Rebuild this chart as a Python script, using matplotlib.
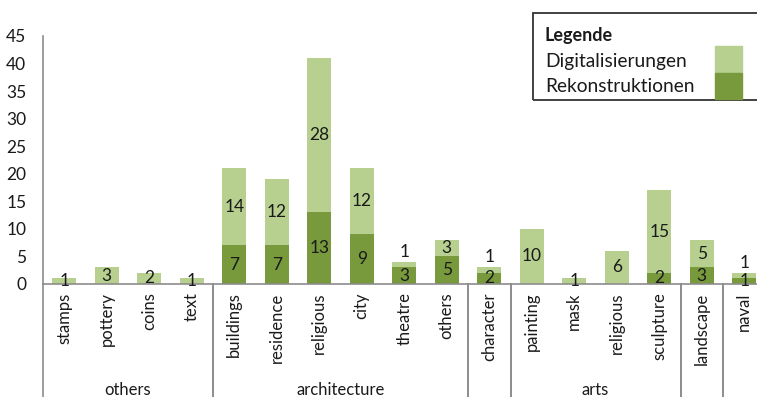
import matplotlib.pyplot as plt
from matplotlib.patches import Rectangle
import matplotlib.transforms as mtransforms
import numpy as np

plt.rcParams['font.family'] = ['Lato', 'DejaVu Sans']

categories = ['stamps', 'pottery', 'coins', 'text',
              'buildings', 'residence', 'religious', 'city', 'theatre', 'others',
              'character', 'painting', 'mask', 'religious', 'sculpture',
              'landscape', 'naval']
rekonstruktionen = [0, 0, 0, 0, 7, 7, 13, 9, 3, 5, 2, 0, 0, 0, 2, 3, 1]
digitalisierungen = [1, 3, 2, 1, 14, 12, 28, 12, 1, 3, 1, 10, 1, 6, 15, 5, 1]
# groups: (label, first index, last index)
groups = [('others', 0, 3), ('architecture', 4, 9), ('', 10, 10),
          ('arts', 11, 14), ('', 15, 15), ('', 16, 16)]
yticks = [0, 5, 10, 15, 20, 25, 30, 35, 40, 45]

light = '#b7d08f'
dark = '#789a3c'
axcol = '#8c8c8c'
txt = '#1a1a1a'

W, H = 757, 397
fig = plt.figure(figsize=(W / 100, H / 100), dpi=100)
x0, x1 = 43, 43 + 17 * 42.5
yb, yt = 284, 36
ax = fig.add_axes([x0 / W, (H - yb) / H, (x1 - x0) / W, (yb - yt) / H])

x = np.arange(len(categories))
rek = np.array(rekonstruktionen)
dig = np.array(digitalisierungen)
bw = 0.57
ax.bar(x, rek, bw, color=dark, zorder=2)
ax.bar(x, dig, bw, bottom=rek, color=light, zorder=2)

fs = 12.5
for i in x:
    if rek[i] > 0:
        ax.text(i, rek[i] / 2, str(rek[i]), ha='center', va='center',
                fontsize=fs, color=txt, zorder=3)
    if dig[i] > 0:
        if dig[i] < 2 and rek[i] > 0:
            ax.annotate(str(dig[i]), (i, rek[i] + dig[i]), xytext=(0, 1.5),
                        textcoords='offset points', ha='center', va='bottom',
                        fontsize=fs, color=txt, zorder=3)
        else:
            ax.text(i, rek[i] + dig[i] / 2, str(dig[i]), ha='center',
                    va='center', fontsize=fs, color=txt, zorder=3)

ax.set_xlim(-0.5, len(categories) - 0.5)
ax.set_ylim(0, 45)
ax.set_yticks(yticks)
ax.tick_params(axis='y', length=0, pad=12, labelsize=fs, labelcolor=txt)
ax.set_xticks(x)
ax.set_xticklabels(categories, rotation=90, fontsize=12, color=txt)
ax.tick_params(axis='x', length=0, pad=6)
for s in ['top', 'right']:
    ax.spines[s].set_visible(False)
for s in ['left', 'bottom']:
    ax.spines[s].set_color(axcol)
    ax.spines[s].set_linewidth(1.2)

trans = mtransforms.blended_transform_factory(ax.transData, ax.transAxes)
bottom_ax = -(H - yb) / (yb - yt)
label_y = -(390 - yb) / (yb - yt)
for name, a, b in groups:
    for xb in (a - 0.5, b + 0.5):
        ax.plot([xb, xb], [0, bottom_ax], transform=trans, color=axcol,
                lw=1.2, clip_on=False)
    if name:
        ax.text((a + b) / 2, label_y, name, transform=trans, ha='center',
                va='center', fontsize=12, color=txt, clip_on=False)

# legend box
fig.patches.append(Rectangle((533 / W, (H - 100) / H), 240 / W, 87 / H,
                             transform=fig.transFigure, fill=False,
                             edgecolor='#333333', lw=1.3))
fig.patches.append(Rectangle((715 / W, (H - 73) / H), 27 / W, 27 / H,
                             transform=fig.transFigure, color=light))
fig.patches.append(Rectangle((715 / W, (H - 99) / H), 27 / W, 26 / H,
                             transform=fig.transFigure, color=dark))
fig.text(545 / W, (H - 35) / H, 'Legende', fontsize=13, fontweight='bold',
         color=txt, va='center')
fig.text(545 / W, (H - 62) / H, 'Digitalisierungen', fontsize=13.8,
         color=txt, va='center')
fig.text(545 / W, (H - 87) / H, 'Rekonstruktionen', fontsize=13.8,
         color=txt, va='center')

fig.savefig('out.png', dpi=100)
